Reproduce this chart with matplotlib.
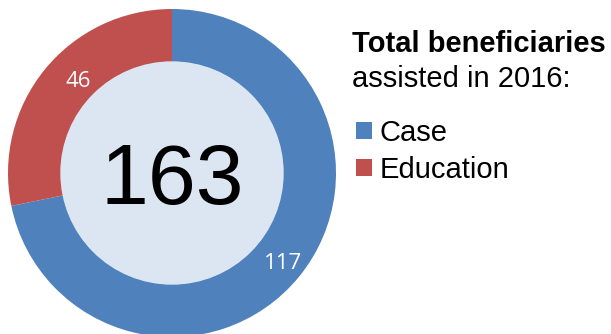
import numpy as np
import matplotlib
matplotlib.use("Agg")
import matplotlib.pyplot as plt

plt.rcParams['font.family'] = ['Liberation Sans', 'DejaVu Sans']

# beneficiaries by programme, 2016
categories = ['Case', 'Education']
values = [117, 46]
colors = ['#4f81bd', '#c0504d']
total = sum(values)

fig = plt.figure(figsize=(6.11, 3.34), dpi=100)
ax = fig.add_axes([0, 0, 1, 1])

cx, cy, r_out, r_in = 172, 161, 164, 111

wedges, _ = ax.pie(values, colors=colors, startangle=90, counterclock=False,
                   center=(cx, cy), radius=r_out, frame=True,
                   wedgeprops=dict(width=r_out - r_in, linewidth=0))
ax.set_xlim(0, 611)
ax.set_ylim(0, 334)
ax.set_aspect('equal')
ax.axis('off')

# hole of the donut
ax.add_patch(plt.Circle((cx, cy), r_in, color='#dce6f2', zorder=3))
ax.text(cx, cy - 31, str(total), fontsize=62, ha='center', va='baseline',
        color='black', zorder=4)

# value labels on the ring
label_r = [143, 131]
label_shift = [0, 5]
for w, v, rr, sh in zip(wedges, values, label_r, label_shift):
    ang = np.deg2rad((w.theta1 + w.theta2) / 2 - sh)
    ax.text(cx + rr * np.cos(ang), cy + rr * np.sin(ang), str(v),
            fontsize=16, color='white', ha='center', va='center',
            family=['Open Sans', 'DejaVu Sans'], zorder=4)

fig.text(352 / 611, 1 - 52 / 334, 'Total beneficiaries', fontsize=21,
         fontweight='bold', ha='left', va='baseline')
fig.text(352 / 611, 1 - 87 / 334, 'assisted in 2016:', fontsize=21,
         ha='left', va='baseline')

leg = fig.legend(wedges, categories, loc='upper left',
                 bbox_to_anchor=(356 / 611, 1 - 119 / 334), frameon=False,
                 fontsize=21, handlelength=0.55, handleheight=0.55,
                 handletextpad=0.25, labelspacing=0.3, borderaxespad=0,
                 borderpad=0)

fig.savefig('out.png', dpi=100)
